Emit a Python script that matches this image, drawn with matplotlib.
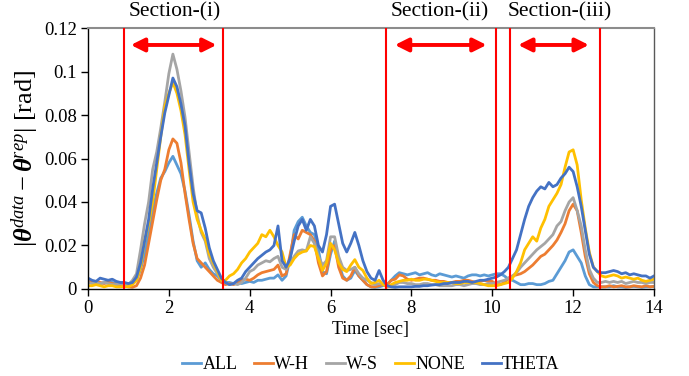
import numpy as np
import matplotlib
matplotlib.use("Agg")
import matplotlib.pyplot as plt

plt.rcParams['font.family'] = ['Liberation Serif', 'DejaVu Serif']
plt.rcParams['mathtext.fontset'] = 'custom'
plt.rcParams['mathtext.rm'] = 'Liberation Serif'
plt.rcParams['mathtext.it'] = 'Liberation Serif:italic'
plt.rcParams['mathtext.bf'] = 'Liberation Serif:bold:italic'

time = np.round(np.arange(0, 141) * 0.1, 1)

ALL = [0.003, 0.0035, 0.003, 0.0025, 0.003, 0.0035, 0.003, 0.0025, 0.002, 0.002,
       0.002, 0.0025, 0.004, 0.009, 0.016, 0.026, 0.036, 0.044, 0.051, 0.054,
       0.058, 0.061, 0.057, 0.053, 0.045, 0.034, 0.022, 0.013, 0.010, 0.012,
       0.009, 0.007, 0.006, 0.004, 0.003, 0.003, 0.0025, 0.003, 0.0025, 0.003,
       0.0035, 0.003, 0.004, 0.004, 0.0045, 0.005, 0.005, 0.0065, 0.004, 0.006,
       0.014, 0.027, 0.031, 0.033, 0.029, 0.026, 0.025, 0.018, 0.008, 0.007,
       0.016, 0.022, 0.012, 0.006, 0.004, 0.005, 0.0085, 0.006, 0.004, 0.002,
       0.001, 0.0008, 0.001, 0.0015, 0.002, 0.004, 0.006, 0.0075, 0.007, 0.0065,
       0.007, 0.0075, 0.0065, 0.007, 0.0075, 0.0065, 0.006, 0.007, 0.0065, 0.006,
       0.0055, 0.006, 0.0055, 0.005, 0.006, 0.0065, 0.0065, 0.006, 0.0065, 0.006,
       0.0065, 0.007, 0.007, 0.006, 0.0045, 0.004, 0.003, 0.002, 0.002, 0.0025,
       0.0025, 0.002, 0.002, 0.0025, 0.0035, 0.004, 0.007, 0.010, 0.013, 0.017,
       0.018, 0.015, 0.012, 0.006, 0.002, 0.001, 0.001, 0.001, 0.001, 0.001,
       0.0015, 0.001, 0.001, 0.0008, 0.001, 0.0012, 0.001, 0.0008, 0.001, 0.001,
       0.0012]

W_H = [0.0035, 0.003, 0.0035, 0.003, 0.0025, 0.003, 0.0025, 0.002, 0.002, 0.0015,
       0.001, 0.0008, 0.0015, 0.005, 0.011, 0.021, 0.031, 0.041, 0.050, 0.055,
       0.064, 0.069, 0.067, 0.058, 0.044, 0.032, 0.021, 0.014, 0.012, 0.010,
       0.008, 0.006, 0.004, 0.003, 0.002, 0.0025, 0.002, 0.003, 0.004, 0.0045,
       0.004, 0.005, 0.0065, 0.0075, 0.008, 0.0085, 0.009, 0.011, 0.006, 0.007,
       0.016, 0.025, 0.023, 0.027, 0.026, 0.025, 0.022, 0.012, 0.006, 0.008,
       0.018, 0.020, 0.010, 0.005, 0.004, 0.006, 0.010, 0.006, 0.004, 0.002,
       0.001, 0.001, 0.0015, 0.002, 0.002, 0.004, 0.0045, 0.0065, 0.006, 0.0045,
       0.004, 0.0045, 0.005, 0.005, 0.0045, 0.004, 0.004, 0.0035, 0.0035, 0.003,
       0.003, 0.0035, 0.0035, 0.004, 0.004, 0.0035, 0.003, 0.0035, 0.004, 0.0035,
       0.0035, 0.002, 0.002, 0.003, 0.005, 0.006, 0.0065, 0.007, 0.008, 0.0095,
       0.011, 0.013, 0.015, 0.016, 0.018, 0.020, 0.0225, 0.026, 0.030, 0.036,
       0.039, 0.036, 0.026, 0.015, 0.007, 0.003, 0.0015, 0.001, 0.001, 0.0015,
       0.001, 0.0012, 0.0015, 0.001, 0.001, 0.0015, 0.0012, 0.001, 0.0015, 0.001,
       0.0012]

W_S = [0.003, 0.0025, 0.003, 0.0025, 0.003, 0.0025, 0.002, 0.002, 0.0025, 0.002,
       0.002, 0.004, 0.007, 0.018, 0.030, 0.040, 0.055, 0.063, 0.074, 0.086,
       0.099, 0.108, 0.101, 0.091, 0.079, 0.063, 0.047, 0.034, 0.026, 0.022,
       0.014, 0.010, 0.007, 0.004, 0.003, 0.002, 0.0025, 0.002, 0.003, 0.005,
       0.008, 0.009, 0.011, 0.012, 0.013, 0.0125, 0.014, 0.015, 0.010, 0.009,
       0.012, 0.015, 0.0175, 0.018, 0.0175, 0.024, 0.021, 0.015, 0.011, 0.013,
       0.024, 0.024, 0.015, 0.010, 0.0085, 0.009, 0.010, 0.007, 0.005, 0.004,
       0.003, 0.002, 0.0025, 0.002, 0.001, 0.0015, 0.002, 0.003, 0.003, 0.0025,
       0.0025, 0.002, 0.002, 0.0025, 0.0025, 0.002, 0.002, 0.0015, 0.0015, 0.0015,
       0.0015, 0.002, 0.002, 0.0015, 0.002, 0.0025, 0.0025, 0.002, 0.002, 0.0025,
       0.0025, 0.003, 0.0035, 0.004, 0.005, 0.006, 0.0075, 0.010, 0.012, 0.014,
       0.016, 0.018, 0.0195, 0.021, 0.023, 0.025, 0.029, 0.031, 0.036, 0.040,
       0.042, 0.036, 0.029, 0.018, 0.009, 0.005, 0.003, 0.003, 0.0035, 0.003,
       0.0035, 0.003, 0.0035, 0.0025, 0.003, 0.0035, 0.003, 0.003, 0.0025, 0.003,
       0.003]

NONE = [0.0015, 0.0015, 0.002, 0.0015, 0.001, 0.0015, 0.0015, 0.001, 0.001, 0.0012,
        0.001, 0.002, 0.004, 0.010, 0.022, 0.030, 0.040, 0.055, 0.070, 0.084,
        0.090, 0.095, 0.090, 0.082, 0.071, 0.055, 0.040, 0.032, 0.027, 0.023,
        0.016, 0.012, 0.008, 0.004, 0.004, 0.006, 0.007, 0.009, 0.012, 0.014,
        0.017, 0.019, 0.021, 0.025, 0.024, 0.027, 0.024, 0.020, 0.017, 0.010,
        0.011, 0.014, 0.016, 0.017, 0.0175, 0.020, 0.0195, 0.014, 0.0085, 0.012,
        0.021, 0.018, 0.012, 0.009, 0.008, 0.011, 0.0135, 0.010, 0.0085, 0.005,
        0.0025, 0.003, 0.004, 0.002, 0.001, 0.002, 0.003, 0.0035, 0.004, 0.004,
        0.0045, 0.004, 0.004, 0.0045, 0.0045, 0.004, 0.0035, 0.003, 0.003, 0.003,
        0.003, 0.0025, 0.0025, 0.003, 0.003, 0.003, 0.003, 0.0025, 0.002, 0.0015,
        0.0015, 0.0015, 0.002, 0.0025, 0.003, 0.005, 0.008, 0.012, 0.018, 0.021,
        0.024, 0.022, 0.028, 0.032, 0.038, 0.041, 0.044, 0.048, 0.056, 0.063,
        0.064, 0.057, 0.041, 0.028, 0.017, 0.010, 0.008, 0.006, 0.0055, 0.006,
        0.0065, 0.006, 0.005, 0.0055, 0.005, 0.0045, 0.005, 0.004, 0.0035, 0.004,
        0.0045]

THETA = [0.005, 0.004, 0.0035, 0.005, 0.0045, 0.004, 0.0045, 0.0035, 0.003, 0.003,
         0.0025, 0.003, 0.0055, 0.012, 0.022, 0.032, 0.046, 0.058, 0.070, 0.081,
         0.089, 0.097, 0.093, 0.085, 0.075, 0.058, 0.044, 0.036, 0.035, 0.028,
         0.019, 0.013, 0.009, 0.005, 0.003, 0.002, 0.0025, 0.004, 0.005, 0.008,
         0.010, 0.012, 0.014, 0.0155, 0.017, 0.018, 0.020, 0.029, 0.013, 0.010,
         0.014, 0.022, 0.029, 0.032, 0.027, 0.032, 0.029, 0.020, 0.017, 0.025,
         0.038, 0.039, 0.030, 0.021, 0.017, 0.021, 0.026, 0.020, 0.013, 0.008,
         0.005, 0.004, 0.0085, 0.004, 0.0015, 0.001, 0.0008, 0.001, 0.001, 0.001,
         0.001, 0.0012, 0.0012, 0.0015, 0.0015, 0.0018, 0.002, 0.002, 0.0025, 0.0025,
         0.003, 0.003, 0.003, 0.0035, 0.0035, 0.003, 0.0035, 0.004, 0.004, 0.0045,
         0.005, 0.0055, 0.0065, 0.008, 0.010, 0.014, 0.018, 0.025, 0.032, 0.038,
         0.042, 0.045, 0.047, 0.046, 0.049, 0.047, 0.048, 0.051, 0.053, 0.056,
         0.054, 0.047, 0.038, 0.027, 0.016, 0.010, 0.008, 0.0075, 0.0075, 0.008,
         0.0085, 0.008, 0.007, 0.0075, 0.0065, 0.007, 0.0065, 0.006, 0.006, 0.005,
         0.006]

series_names = ['ALL', 'W-H', 'W-S', 'NONE', 'THETA']
series_values = [ALL, W_H, W_S, NONE, THETA]
series_colors = ['#5B9BD5', '#ED7D31', '#A5A5A5', '#FFC000', '#4472C4']

section_bounds = [0.89, 3.34, 7.37, 10.09, 10.44, 12.66]
arrow_spans = [(1.06, 3.18), (7.59, 9.86), (10.64, 12.39)]
arrow_y = 0.1122
section_labels = ['Section-(i)', 'Section-(ii)', 'Section-(iii)']
section_label_x = [2.15, 8.7, 11.67]

xticks = [0, 2, 4, 6, 8, 10, 12, 14]
yticks = [0, 0.02, 0.04, 0.06, 0.08, 0.1, 0.12]
ytick_labels = ['0', '0.02', '0.04', '0.06', '0.08', '0.1', '0.12']

fig = plt.figure(figsize=(6.89, 3.76), dpi=100)
ax = fig.add_axes([0.1277, 0.2314, 0.8215, 0.6941])

for name, vals, col in zip(series_names, series_values, series_colors):
    ax.plot(time, vals, color=col, lw=2.0, label=name, solid_joinstyle='round')

for xb in section_bounds:
    ax.axvline(xb, color='#FF0000', lw=1.5, zorder=5)

for (a, b) in arrow_spans:
    ax.annotate('', xy=(b, arrow_y), xytext=(a, arrow_y),
                arrowprops=dict(arrowstyle='<|-|>,head_length=0.8,head_width=0.4',
                                color='#FF0000', lw=2.8, shrinkA=0, shrinkB=0),
                zorder=6)

for lab, lx in zip(section_labels, section_label_x):
    ax.text(lx, 1.061, lab, transform=ax.get_xaxis_transform(),
            ha='center', va='center', fontsize=15.5)

ax.set_xlim(0, 14)
ax.set_ylim(0, 0.12)
ax.set_xticks(xticks)
ax.set_yticks(yticks)
ax.set_yticklabels(ytick_labels)
ax.tick_params(axis='both', direction='out', length=5, labelsize=13.5, width=1)
ax.tick_params(axis='x', pad=3)
ax.tick_params(axis='y', pad=3)

for side in ['left', 'bottom']:
    ax.spines[side].set_color('black')
    ax.spines[side].set_linewidth(1.0)
ax.spines['top'].set_color('#8C8C8C')
ax.spines['top'].set_linewidth(1.5)
ax.spines['right'].set_color('#595959')
ax.spines['right'].set_linewidth(1.0)

ax.set_xlabel('Time [sec]', fontsize=13, labelpad=3)
ax.set_ylabel(r'$|\mathbf{\theta}^{data} - \mathbf{\theta}^{rep}|$ [rad]', fontsize=19, labelpad=2)

ax.legend(loc='center', bbox_to_anchor=(0.5, -0.29), ncol=5, frameon=False,
          fontsize=13, handlelength=1.05, handletextpad=0.05, columnspacing=0.95)

fig.savefig('out.png', dpi=100)
